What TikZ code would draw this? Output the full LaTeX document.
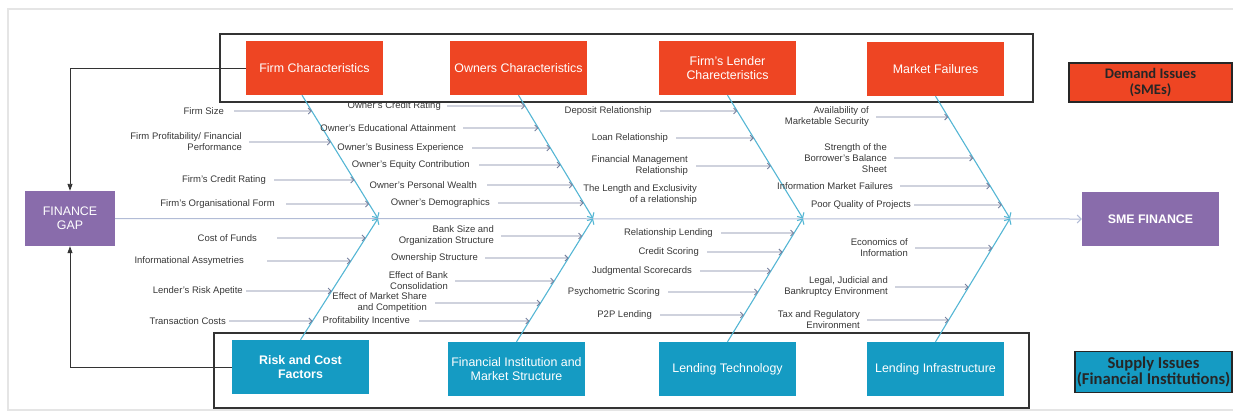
\documentclass[tikz,border=0pt]{standalone}
\usepackage{fontspec}
\setmainfont{Liberation Sans}
\newfontfamily\carlito{Carlito}
\usetikzlibrary{arrows.meta}

\definecolor{boxred}{RGB}{238,69,35}
\definecolor{boxblue}{RGB}{21,155,195}
\definecolor{boxpurple}{RGB}{137,108,171}
\definecolor{bonecol}{RGB}{84,182,212}
\definecolor{twigcol}{RGB}{118,128,158}
\definecolor{spinecol}{RGB}{178,188,214}
\definecolor{textgray}{RGB}{55,55,55}

\tikzset{
  cause/.style={minimum width=137pt, minimum height=54pt, text=white, align=center,
    font=\fontsize{12.4}{14}\selectfont, inner sep=2pt},
  redbox/.style={cause, fill=boxred},
  bluebox/.style={cause, fill=boxblue},
  endbox/.style={cause, fill=boxpurple},
  issue/.style={draw=black!85, line width=1.5pt, text=black!85, align=center, inner sep=1pt,
    font=\carlito\bfseries\fontsize{14.6}{15.5}\selectfont},
  lbl/.style={anchor=east, align=right, text=textgray, font=\fontsize{9.5}{11}\selectfont, inner sep=1pt},
  twig/.style={twigcol, line width=0.9pt, -{Straight Barb[length=3pt,width=6pt]}},
  bone/.style={bonecol, line width=1.1pt, -{Straight Barb[length=4pt,width=8pt]}},
  spine/.style={spinecol, line width=1pt, -{Straight Barb[length=4pt,width=8pt]}},
  feedback/.style={black!80, line width=0.9pt, -{Triangle[length=7pt,width=5pt]}},
  groupframe/.style={black!80, line width=1.8pt}
}

\begin{document}
\begin{tikzpicture}[x=1pt, y=-1pt]
    \useasboundingbox (0,0) rectangle (1233,413);
    % light page border
    \draw[black!10, line width=1.5pt] (1233,9) -- (8,9) -- (8,410) -- (1233,410);

    % demand and supply frames
    \draw[groupframe] (220,34) rectangle (1033,102);
    \draw[groupframe] (214,333) rectangle (1029,408);

    % head and tail of the fish
    \node[endbox, minimum width=90pt, minimum height=55pt] (gap) at (70,218.5) {FINANCE\\GAP};
    \node[endbox, font=\bfseries\fontsize{12.4}{14}\selectfont] (sme) at (1150.5,219) {SME FINANCE};

    % demand side causes
    \node[redbox] (fc) at (314.5,68) {Firm Characteristics};
    \node[redbox] (oc) at (518.5,68) {Owners Characteristics};
    \node[redbox] (flc) at (727.5,68) {Firm's Lender\\Charecteristics};
    \node[redbox] (mf) at (935.5,69) {Market Failures};

    % supply side causes
    \node[bluebox, font=\bfseries\fontsize{12.4}{14}\selectfont] (rc) at (300.5,367) {Risk and Cost\\Factors};
    \node[bluebox] (fi) at (516.5,369) {Financial Institution and\\Market Structure};
    \node[bluebox] (lt) at (727.5,369) {Lending Technology};
    \node[bluebox] (li) at (935.5,369) {Lending Infrastructure};

    % legend
    \node[issue, fill=boxred, minimum width=163pt, minimum height=39pt] (dem) at (1150.5,82.5) {Demand Issues\\(SMEs)};
    \node[issue, fill=boxblue, minimum width=157pt, minimum height=41pt,
      font=\carlito\bfseries\fontsize{16.6}{16.5}\selectfont] (sup) at (1153.5,372) {Supply Issues\\(Financial Institutions)};

    % spine
    \draw[spine] (gap.east) -- (sme.west);
    \coordinate (j1) at (378,218.5);
    \coordinate (j2) at (593,218.5);
    \coordinate (j3) at (803,218.5);
    \coordinate (j4) at (1010,218.5);

    % bones
    \coordinate (t1) at ([xshift=-12.5pt]fc.south);
    \draw[bone] (t1) -- (j1);
    \draw[bone] (oc.south) -- (j2);
    \draw[bone] (flc.south) -- (j3);
    \draw[bone] (mf.south) -- (j4);
    \draw[bone] (rc.north) -- (j1);
    \draw[bone] (fi.north) -- (j2);
    \draw[bone] (lt.north) -- (j3);
    \draw[bone] (li.north) -- (j4);

    % firm characteristics
    \node[lbl] (fs) at (225,111) {Firm Size};
    \node[lbl] (fp) at (243,142) {Firm Profitability/ Financial\\Performance};
    \node[lbl] (fcr) at (267,180) {Firm's Credit Rating};
    \node[lbl] (fof) at (276,204) {Firm's Organisational Form};
    \draw[twig] ([xshift=9pt]fs.east) -- (intersection of fs.east--fs.west and t1--j1);
    \draw[twig] ([xshift=6pt]fp.east) -- (intersection of fp.east--fp.west and t1--j1);
    \draw[twig] ([xshift=7pt]fcr.east) -- (intersection of fcr.east--fcr.west and t1--j1);
    \draw[twig] ([xshift=10pt]fof.east) -- (intersection of fof.east--fof.west and t1--j1);

    % owners characteristics
    \node[lbl] (ocr) at (442,106) {Owner's Credit Rating};
    \node[lbl] (oea) at (457,128) {Owner's Educational Attainment};
    \node[lbl] (obe) at (465,148) {Owner's Business Experience};
    \node[lbl] (oec) at (471,165) {Owner's Equity Contribution};
    \node[lbl] (opw) at (478,185) {Owner's Personal Wealth};
    \node[lbl] (od) at (491,203) {Owner's Demographics};
    \draw[twig] ([xshift=5pt]ocr.east) -- (intersection of ocr.east--ocr.west and oc.south--j2);
    \draw[twig] ([xshift=6pt]oea.east) -- (intersection of oea.east--oea.west and oc.south--j2);
    \draw[twig] ([xshift=7pt]obe.east) -- (intersection of obe.east--obe.west and oc.south--j2);
    \draw[twig] ([xshift=8pt]oec.east) -- (intersection of oec.east--oec.west and oc.south--j2);
    \draw[twig] ([xshift=9pt]opw.east) -- (intersection of opw.east--opw.west and oc.south--j2);
    \draw[twig] ([xshift=7pt]od.east) -- (intersection of od.east--od.west and oc.south--j2);

    % lender characteristics
    \node[lbl] (dr) at (653,111) {Deposit Relationship};
    \node[lbl] (lr) at (669,138) {Loan Relationship};
    \node[lbl] (fmr) at (689,166) {Financial Management\\Relationship};
    \node[lbl] (tle) at (698,195) {The Length and Exclusivity\\of a relationship};
    \draw[twig] ([xshift=7pt]dr.east) -- (intersection of dr.east--dr.west and flc.south--j3);
    \draw[twig] ([xshift=7pt]lr.east) -- (intersection of lr.east--lr.west and flc.south--j3);
    \draw[twig] ([xshift=7pt]fmr.east) -- (intersection of fmr.east--fmr.west and flc.south--j3);

    % market failures
    \node[lbl] (am) at (870,117) {Availability of\\Marketable Security};
    \node[lbl] (sb) at (888,158) {Strength of the\\Borrower's Balance\\Sheet};
    \node[lbl] (imf) at (894,186) {Information Market Failures};
    \node[lbl] (pq) at (912,205) {Poor Quality of Projects};
    \draw[twig] ([xshift=6pt]am.east) -- (intersection of am.east--am.west and mf.south--j4);
    \draw[twig] ([xshift=6pt]sb.east) -- (intersection of sb.east--sb.west and mf.south--j4);
    \draw[twig] ([xshift=6pt]imf.east) -- (intersection of imf.east--imf.west and mf.south--j4);
    \draw[twig] ([xshift=2pt]pq.east) -- (intersection of pq.east--pq.west and mf.south--j4);

    % risk and cost factors
    \node[lbl] (cf) at (258,238) {Cost of Funds};
    \node[lbl] (ia) at (245,261) {Informational Assymetries};
    \node[lbl] (lra) at (244,291) {Lender's Risk Apetite};
    \node[lbl] (tc) at (227,321) {Transaction Costs};
    \draw[twig] ([xshift=19pt]cf.east) -- (intersection of cf.east--cf.west and rc.north--j1);
    \draw[twig] ([xshift=22pt]ia.east) -- (intersection of ia.east--ia.west and rc.north--j1);
    \draw[twig] ([xshift=2pt]lra.east) -- (intersection of lra.east--lra.west and rc.north--j1);
    \draw[twig] ([xshift=2pt]tc.east) -- (intersection of tc.east--tc.west and rc.north--j1);

    % financial institution and market structure
    \node[lbl] (bso) at (495,236) {Bank Size and\\Organization Structure};
    \node[lbl] (os) at (479,258) {Ownership Structure};
    \node[lbl] (ebc) at (449,281) {Effect of Bank\\Consolidation};
    \node[lbl] (ems) at (428,303) {Effect of Market Share\\and Competition};
    \node[lbl] (pi) at (411,321) {Profitability Incentive};
    \draw[twig] ([xshift=6pt]bso.east) -- (intersection of bso.east--bso.west and fi.north--j2);
    \draw[twig] ([xshift=6pt]os.east) -- (intersection of os.east--os.west and fi.north--j2);
    \draw[twig] ([xshift=6pt]ebc.east) -- (intersection of ebc.east--ebc.west and fi.north--j2);
    \draw[twig] ([xshift=7pt]ems.east) -- (intersection of ems.east--ems.west and fi.north--j2);
    \draw[twig] ([xshift=8pt]pi.east) -- (intersection of pi.east--pi.west and fi.north--j2);

    % lending technology
    \node[lbl] (rl) at (714,233) {Relationship Lending};
    \node[lbl] (cs) at (700,252) {Credit Scoring};
    \node[lbl] (js) at (693,271) {Judgmental Scorecards};
    \node[lbl] (ps) at (661,292) {Psychometric Scoring};
    \node[lbl] (p2p) at (653,315) {P2P Lending};
    \draw[twig] ([xshift=7pt]rl.east) -- (intersection of rl.east--rl.west and lt.north--j3);
    \draw[twig] ([xshift=7pt]cs.east) -- (intersection of cs.east--cs.west and lt.north--j3);
    \draw[twig] ([xshift=7pt]js.east) -- (intersection of js.east--js.west and lt.north--j3);
    \draw[twig] ([xshift=7pt]ps.east) -- (intersection of ps.east--ps.west and lt.north--j3);
    \draw[twig] ([xshift=7pt]p2p.east) -- (intersection of p2p.east--p2p.west and lt.north--j3);

    % lending infrastructure
    \node[lbl] (ei) at (909,248) {Economics of\\Information};
    \node[lbl] (lj) at (889,287) {Legal, Judicial and\\Bankruptcy Environment};
    \node[lbl] (tr) at (861,320) {Tax and Regulatory\\Environment};
    \draw[twig] ([xshift=6pt]ei.east) -- (intersection of ei.east--ei.west and li.north--j4);
    \draw[twig] ([xshift=6pt]lj.east) -- (intersection of lj.east--lj.west and li.north--j4);
    \draw[twig] ([xshift=6pt]tr.east) -- (intersection of tr.east--tr.west and li.north--j4);

    % feedback into the finance gap
    \draw[feedback] (fc.west) -| (gap.north);
    \draw[feedback] (rc.west) -| (gap.south);
\end{tikzpicture}
\end{document}
